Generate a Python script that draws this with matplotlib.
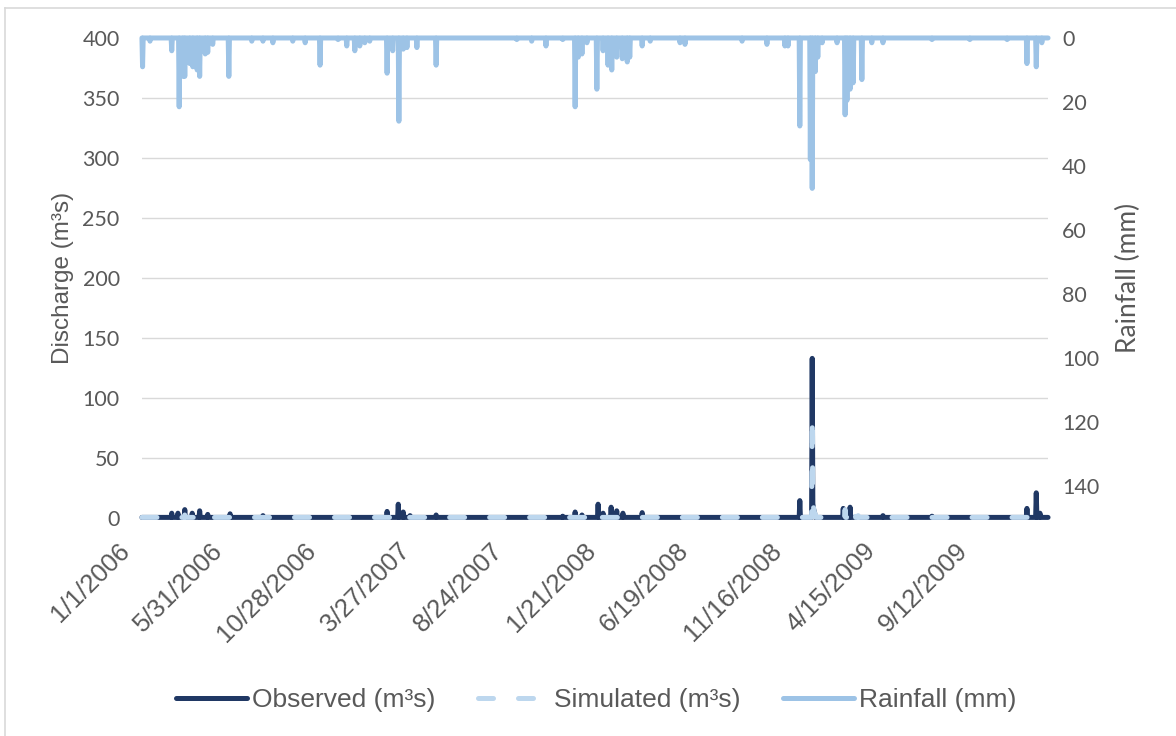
import numpy as np
import pandas as pd
import matplotlib
matplotlib.use("Agg")
import matplotlib.pyplot as plt
import matplotlib.transforms as mtransforms
from matplotlib.ticker import FuncFormatter
from matplotlib.lines import Line2D

# daily series 1/1/2006 - 12/31/2009, events given as day offset from 1/1/2006
start = "2006-01-01"
end = "2009-12-31"

rain_day = [1, 13, 48, 60, 66, 69, 77, 82, 89, 93, 102, 106, 114, 140, 177, 195, 211,
            243, 263, 287, 316, 330, 343, 351, 359, 367, 395, 404, 414, 421, 427, 443,
            474, 604, 628, 651, 678, 698, 703, 709, 717, 733, 743, 751, 757, 765, 774,
            782, 786, 806, 819, 867, 875, 967, 1007, 1036, 1041, 1060, 1077, 1080, 1085,
            1089, 1096, 1120, 1133, 1136, 1141, 1146, 1160, 1176, 1194, 1273, 1334, 1394,
            1426, 1441, 1450]
rain_mm = [9, 1, 4, 21.5, 12, 12, 8, 9, 10, 12, 5, 4.5, 2, 12, 1, 1, 1.5,
           1, 1.5, 8.5, 0.5, 2.5, 4, 2.5, 1.5, 1, 11, 4, 26, 3.5, 3, 3,
           8.5, 0.5, 1, 2.5, 0.5, 21.5, 6, 5, 1.5, 16, 4, 8.5, 10, 6, 6.5,
           7.5, 6, 2.5, 1, 1.5, 2, 1, 2, 2.5, 2.5, 27.5, 38, 47, 10.5,
           6, 1.5, 1.5, 24, 19.5, 16, 14, 13, 1.5, 1.5, 0.5, 0.5, 0.5,
           8, 9, 1.5]

obs_day = [48, 58, 69, 81, 93, 106, 142, 195, 395, 413, 421, 432, 474, 678, 698, 709,
           735, 743, 756, 765, 775, 806, 1060, 1080, 1081, 1082, 1083, 1084, 1130, 1141,
           1194, 1273, 1426, 1441, 1447]
obs_q = [4, 4, 7, 4, 6, 3, 3.5, 2, 5.5, 11.5, 5, 2, 2.5, 1.5, 5, 2.5,
         11.5, 4, 9, 6, 4, 4.5, 14.5, 133, 12, 8, 6, 4, 8, 9,
         2, 1.5, 8, 21, 4]

sim_day = [69, 85, 413, 738, 1080, 1081, 1082, 1083, 1084, 1085, 1133, 1138, 1149, 1154]
sim_q = [2.5, 2.5, 3, 4, 84, 15, 9, 6, 4, 3, 7, 6, 3, 2]

base_q = 0.5  # low flow between events

days = pd.date_range(start, end, freq="D")
rain = np.zeros(len(days))
rain[rain_day] = rain_mm
observed = np.full(len(days), base_q)
observed[obs_day] = obs_q
simulated = np.full(len(days), base_q)
simulated[sim_day] = sim_q

c_obs = "#203864"
c_sim = "#BDD7EE"
c_rain = "#9DC3E6"
c_text = "#595959"
narrow = ["Liberation Sans Narrow", "Liberation Sans", "DejaVu Sans"]
calib = ["Lato", "DejaVu Sans"]

fig = plt.figure(figsize=(11.76, 7.36), dpi=100)
ax = fig.add_axes([0.1207, 0.2962, 0.7705, 0.6522])

lw = 3.6
ax.plot(days, observed, color=c_obs, lw=lw, solid_capstyle="round",
        solid_joinstyle="round", clip_on=False, label="Observed (m³s)", zorder=3)
ax.plot(days, simulated, color=c_sim, lw=lw, dashes=(3, 5), dash_capstyle="round",
        dash_joinstyle="round", clip_on=False, label="Simulated (m³s)", zorder=4)

ax.set_ylim(0, 400)
ax.set_yticks(np.arange(0, 401, 50))
ax.set_xlim(days[0], days[-1])
ticks = pd.date_range(start, end, freq="150D")
ax.set_xticks(ticks)
ax.xaxis.set_major_formatter(FuncFormatter(
    lambda v, p: "{}/{}/{}".format(*[getattr(matplotlib.dates.num2date(v), a) for a in ("month", "day", "year")])))
ax.grid(axis="y", color="#D9D9D9", lw=1)
ax.set_axisbelow(True)
for s in ax.spines.values():
    s.set_visible(False)
ax.tick_params(axis="both", length=0, colors=c_text)
ax.tick_params(axis="y", pad=16)
ax.tick_params(axis="x", pad=15)
for t in ax.get_yticklabels():
    t.set_family(calib)
    t.set_fontsize(15.5)
shift = mtransforms.ScaledTranslation(-0.24, 0, fig.dpi_scale_trans)
for t in ax.get_xticklabels():
    t.set_family(narrow)
    t.set_fontsize(18.5)
    t.set_rotation(45)
    t.set_ha("right")
    t.set_rotation_mode("anchor")
    t.set_transform(t.get_transform() + shift)
ax.set_ylabel("Discharge (m³s)", family=narrow, fontsize=17.5, color=c_text, labelpad=6)

# rainfall on inverted secondary axis
ax2 = ax.twinx()
ax2.plot(days, rain, color=c_rain, lw=lw, solid_capstyle="round",
         solid_joinstyle="round", clip_on=False, label="Rainfall (mm)")
ax2.set_ylim(150, 0)
ax2.set_yticks(np.arange(0, 141, 20))
for s in ax2.spines.values():
    s.set_visible(False)
ax2.tick_params(axis="y", length=0, colors=c_text, pad=10)
for t in ax2.get_yticklabels():
    t.set_family(calib)
    t.set_fontsize(15.5)
ax2.set_ylabel("Rainfall (mm)", family=calib, fontsize=19, color=c_text, labelpad=12)

h1, l1 = ax.get_legend_handles_labels()
h2, l2 = ax2.get_legend_handles_labels()
fig.legend(h1 + h2, l1 + l2, loc="center", bbox_to_anchor=(0.507, 0.049), ncol=3,
           frameon=False, handlelength=2.7, columnspacing=1.6, handletextpad=0.2,
           prop={"family": narrow, "size": 19}, labelcolor=c_text)

# chart area border (left and top edges are in view)
fig.add_artist(Line2D([5 / 1176, 5 / 1176], [0, 1 - 8 / 736], color="#D9D9D9", lw=1.2))
fig.add_artist(Line2D([5 / 1176, 1], [1 - 8 / 736, 1 - 8 / 736], color="#D9D9D9", lw=1.2))

fig.savefig("out.png", dpi=100)
